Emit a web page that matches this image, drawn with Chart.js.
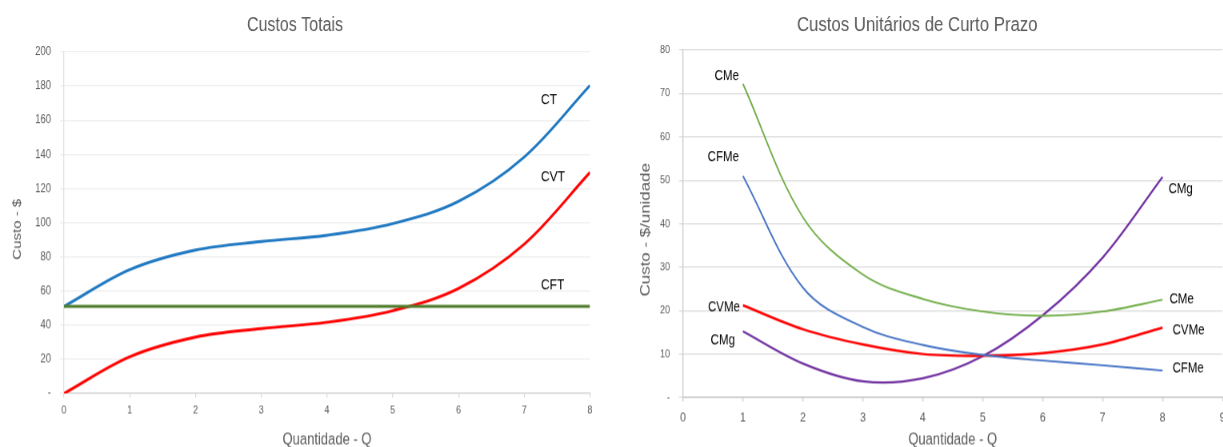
<!DOCTYPE html>
<html>
<head>
<meta charset="utf-8">
<title>Custos de Curto Prazo</title>
<script src="https://cdn.jsdelivr.net/npm/chart.js@4.4.1/dist/chart.umd.min.js"></script>
<style>
  html, body { margin: 0; padding: 0; background: #fff; overflow: hidden; width: 1223px; height: 447px; }
  /* panels are laid out short and stretched vertically, giving the tall, narrow lettering */
  .panel { position: absolute; top: 0; height: 361.6px; transform: scaleY(1.25); transform-origin: 0 0; }
  #painelTotais { left: 0; width: 604px; }
  #painelUnitarios { left: 612px; width: 644px; }
</style>
</head>
<body>
<div class="panel" id="painelTotais"><canvas id="graficoTotais"></canvas></div>
<div class="panel" id="painelUnitarios"><canvas id="graficoUnitarios"></canvas></div>
<script>
// ---- Custos totais ----
const quantidade = [0, 1, 2, 3, 4, 5, 6, 7, 8];
const custoTotal = [51, 72.5, 84, 89, 92.7, 99.5, 112.5, 138.5, 180.5];
const custoVariavelTotal = [0, 21.5, 33, 38, 41.7, 48.5, 61.5, 87.5, 129.5];
const custoFixoTotal = [51, 51, 51, 51, 51, 51, 51, 51, 51];
const eixoXTotais = [0, 1, 2, 3, 4, 5, 6, 7, 8];
const eixoYTotais = [0, 20, 40, 60, 80, 100, 120, 140, 160, 180, 200];

// ---- Custos unitários ----
const quantidadeUnit = [1, 2, 3, 4, 5, 6, 7, 8];
const custoMedio = [72.2, 41.5, 28.3, 22.7, 19.8, 18.8, 19.8, 22.5];
const custoFixoMedio = [51, 25.3, 16.2, 12.1, 9.8, 8.5, 7.4, 6.2];
const custoVariavelMedio = [21.2, 15.7, 12.2, 10.0, 9.6, 10.2, 12.2, 16.1];
const custoMarginal = [15.2, 7.8, 3.7, 4.4, 9.5, 18.9, 32.2, 50.8];
const eixoXUnit = [0, 1, 2, 3, 4, 5, 6, 7, 8, 9];
const eixoYUnit = [0, 10, 20, 30, 40, 50, 60, 70, 80];

const ESTICA = 1.25;              // vertical stretch applied to each panel
const FONTE = "'Liberation Sans', Arial, sans-serif";
const CINZA = '#595959';

const pares = (xs, ys) => xs.map((x, i) => ({ x, y: ys[i] }));
const fixarTicks = valores => scale => { scale.ticks = valores.map(v => ({ value: v })); };
const rotuloZero = v => (v === 0 ? '-' : v);

// Writes a series name next to the first or last point of its line.
const nomesSeries = {
  id: 'nomesSeries',
  afterDatasetsDraw(chart) {
    const ctx = chart.ctx;
    chart.data.datasets.forEach((ds, i) => {
      const meta = chart.getDatasetMeta(i);
      (ds.nomes || []).forEach(n => {
        const pt = n.ponta === 'inicio' ? meta.data[0] : meta.data[meta.data.length - 1];
        ctx.save();
        ctx.font = n.tamanho + 'px ' + FONTE;
        ctx.fillStyle = '#000';
        ctx.textAlign = n.alinhar;
        ctx.textBaseline = 'middle';
        ctx.fillText(n.texto, pt.x + n.dx, pt.y + n.dy / ESTICA);
        ctx.restore();
      });
    });
  }
};

// Rotated caption for the vertical axis.
const legendaVertical = {
  id: 'legendaVertical',
  afterDraw(chart, args, opts) {
    const ctx = chart.ctx;
    const area = chart.chartArea;
    ctx.save();
    ctx.translate(opts.x, (area.top + area.bottom) / 2 + opts.dy / ESTICA);
    ctx.rotate(-Math.PI / 2);
    ctx.font = opts.tamanho + 'px ' + FONTE;
    ctx.fillStyle = CINZA;
    ctx.textAlign = 'center';
    ctx.textBaseline = 'middle';
    ctx.fillText(opts.texto, 0, 0);
    ctx.restore();
  }
};

function linha(dados, cor, largura, nomes) {
  return {
    data: dados, borderColor: cor, borderWidth: largura, backgroundColor: cor,
    pointRadius: 0, tension: 0.35, fill: false, nomes
  };
}

function eixoX(ticks, min, max, opt) {
  return {
    type: 'linear', min, max, afterBuildTicks: fixarTicks(ticks),
    grid: { drawOnChartArea: false, drawTicks: true, tickLength: 3.2, color: opt.grade },
    border: { color: opt.borda, width: 1 },
    ticks: { color: CINZA, font: { family: FONTE, size: opt.fonte }, padding: opt.pad, maxRotation: 0, autoSkip: false },
    title: { display: true, text: 'Quantidade - Q', color: CINZA, font: { family: FONTE, size: 13, lineHeight: 1.2 }, padding: { top: 0, bottom: 2.2 } },
    afterFit: s => { s.height = opt.altura; }
  };
}

function eixoY(ticks, min, max, opt) {
  return {
    type: 'linear', min, max, afterBuildTicks: fixarTicks(ticks),
    grid: { color: opt.grade, tickLength: 4, lineWidth: 1 },
    border: { color: opt.borda, width: 1 },
    ticks: { color: CINZA, font: { family: FONTE, size: opt.fonte }, padding: 9, callback: rotuloZero, autoSkip: false },
    afterFit: s => { s.width = opt.largura; }
  };
}

function titulo(texto, tamanho, cima, baixo) {
  return {
    display: true, text: texto, color: CINZA,
    font: { family: FONTE, size: tamanho, weight: 'normal', lineHeight: 1.2 },
    padding: { top: cima, bottom: baixo }
  };
}

new Chart(document.getElementById('graficoTotais'), {
  type: 'line',
  data: {
    datasets: [
      linha(pares(quantidade, custoFixoTotal), '#4f7d2c', 2.5,
        [{ texto: 'CFT', ponta: 'fim', dx: -49, dy: -21, alinhar: 'left', tamanho: 12 }]),
      linha(pares(quantidade, custoVariavelTotal), '#ff0000', 2.3,
        [{ texto: 'CVT', ponta: 'fim', dx: -49, dy: 5, alinhar: 'left', tamanho: 12 }]),
      linha(pares(quantidade, custoTotal), '#1f78c1', 2.3,
        [{ texto: 'CT', ponta: 'fim', dx: -49, dy: 15, alinhar: 'left', tamanho: 12 }])
    ]
  },
  options: {
    responsive: true, maintainAspectRatio: false, animation: false, devicePixelRatio: ESTICA,
    layout: { padding: { left: 0, right: 14, top: 0, bottom: 0 } },
    plugins: {
      legend: { display: false }, tooltip: { enabled: false },
      title: titulo('Custos Totais', 16, 10.4, 12),
      legendaVertical: { texto: 'Custo - $', x: 17.5, dy: 6.5, tamanho: 12 }
    },
    scales: {
      x: eixoX(eixoXTotais, 0, 8, { grade: '#d9d9d9', borda: '#d0d0d0', fonte: 9, pad: 4.6, altura: 47.2 }),
      y: eixoY(eixoYTotais, 0, 200, { grade: '#eeeeee', borda: '#e2e2e2', fonte: 9.5, largura: 64 })
    }
  },
  plugins: [nomesSeries, legendaVertical]
});

new Chart(document.getElementById('graficoUnitarios'), {
  type: 'line',
  data: {
    datasets: [
      linha(pares(quantidadeUnit, custoMedio), '#70ad47', 1.5, [
        { texto: 'CMe', ponta: 'inicio', dx: -4, dy: -8, alinhar: 'right', tamanho: 11.5 },
        { texto: 'CMe', ponta: 'fim', dx: 7, dy: 0, alinhar: 'left', tamanho: 11.5 }]),
      linha(pares(quantidadeUnit, custoFixoMedio), '#4472c4', 1.5, [
        { texto: 'CFMe', ponta: 'inicio', dx: -4, dy: -19, alinhar: 'right', tamanho: 11.5 },
        { texto: 'CFMe', ponta: 'fim', dx: 10, dy: -2, alinhar: 'left', tamanho: 11.5 }]),
      linha(pares(quantidadeUnit, custoVariavelMedio), '#ff0000', 2, [
        { texto: 'CVMe', ponta: 'inicio', dx: -3, dy: 2, alinhar: 'right', tamanho: 11.5 },
        { texto: 'CVMe', ponta: 'fim', dx: 10, dy: 3, alinhar: 'left', tamanho: 11.5 }]),
      linha(pares(quantidadeUnit, custoMarginal), '#7030a0', 1.8, [
        { texto: 'CMg', ponta: 'inicio', dx: -8, dy: 9, alinhar: 'right', tamanho: 11.5 },
        { texto: 'CMg', ponta: 'fim', dx: 6, dy: 12.5, alinhar: 'left', tamanho: 11.5 }])
    ]
  },
  options: {
    responsive: true, maintainAspectRatio: false, animation: false, devicePixelRatio: ESTICA,
    layout: { padding: { left: 0, right: 33.5, top: 0, bottom: 0 } },
    plugins: {
      legend: { display: false }, tooltip: { enabled: false },
      title: titulo('Custos Unitários de Curto Prazo', 16.8, 9.92, 9.92),
      legendaVertical: { texto: 'Custo - $/unidade', x: 34, dy: 6, tamanho: 13.5 }
    },
    scales: {
      x: eixoX(eixoXUnit, 0, 9, { grade: '#c8c8c8', borda: '#c0c0c0', fonte: 10.5, pad: 6.5, altura: 44 }),
      y: eixoY(eixoYUnit, 0, 80, { grade: '#dcdcdc', borda: '#c8c8c8', fonte: 9, largura: 71 })
    }
  },
  plugins: [nomesSeries, legendaVertical]
});
</script>
</body>
</html>
